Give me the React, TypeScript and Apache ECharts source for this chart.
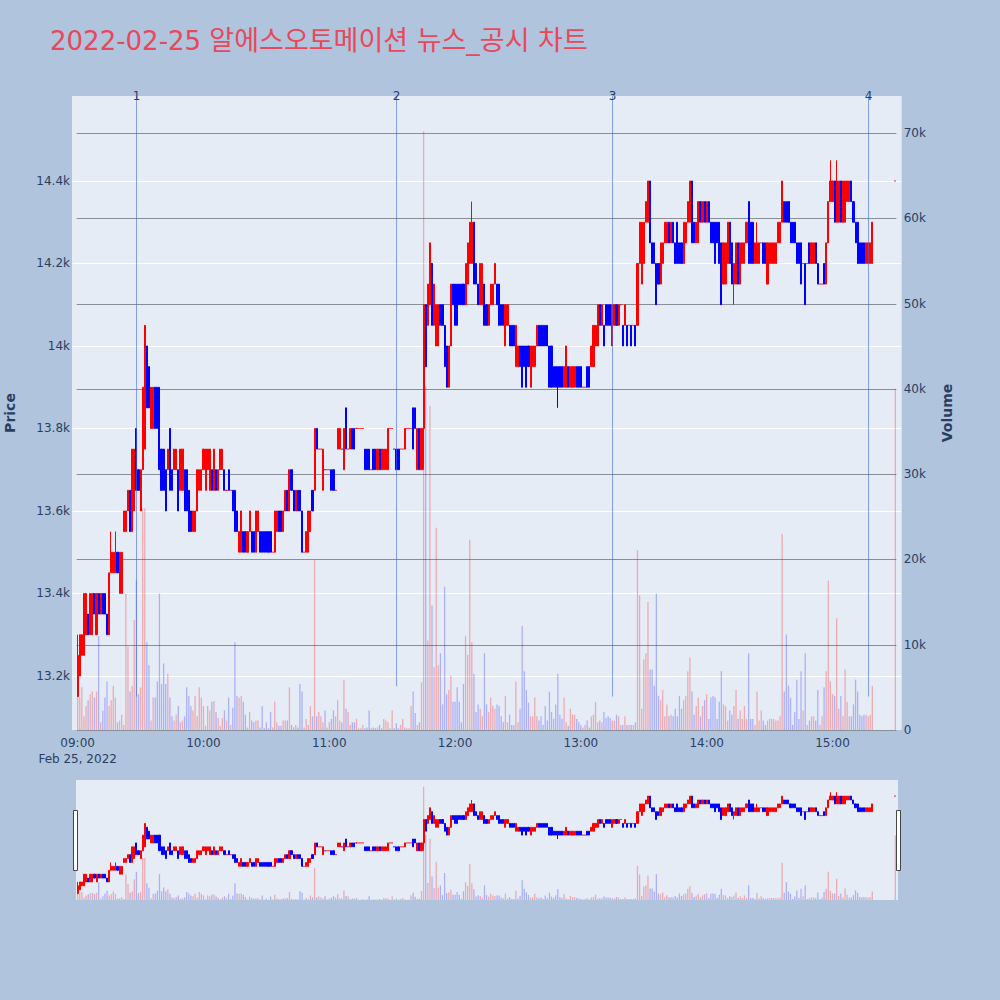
import React, { useEffect, useRef } from 'react';
import * as echarts from 'echarts';

const TITLE_DATE = '2022-02-25';
const TITLE_TEXT = '알에스오토메이션 뉴스_공시 차트';
const TRADE_DATE = [2022, 1, 25];
const DATE_LABEL = 'Feb 25, 2022';
const SESSION_START = '09:00';

// one candle per minute from 09:00
const opens = [
  13150,13200,13250,13250,13300,13350,13300,13300,13400,13300,
  13400,13350,13400,13400,13350,13300,13450,13450,13450,13500,
  13400,13400,13550,13550,13600,13650,13550,13600,13800,13700,
  13600,13700,13750,14000,13950,13800,13800,13900,13900,13900,
  13750,13750,13700,13700,13800,13700,13700,13700,13700,13650,
  13650,13700,13700,13650,13600,13550,13550,13600,13650,13650,
  13700,13650,13700,13650,13700,13650,13700,13650,13700,13700,
  13700,13650,13700,13650,13650,13650,13600,13500,13500,13550,
  13550,13500,13550,13550,13550,13500,13550,13550,13550,13550,
  13550,13550,13550,13500,13500,13550,13600,13600,13550,13600,
  13650,13600,13700,13650,13600,13650,13650,13600,13500,13500,
  13500,13550,13650,13650,13800,13750,13750,13650,13700,13700,
  13700,13700,13700,13650,13750,13750,13750,13700,13850,13750,
  13750,13800,13800,13800,13800,13800,13800,13750,13750,13750,
  13700,13750,13750,13700,13750,13700,13700,13700,13700,13800,
  13800,13750,13750,13750,13750,13750,13750,13800,13800,13800,
  13850,13850,13700,13800,13700,13800,14100,14050,14100,14200,
  14050,14000,14000,14100,14100,14050,14000,13900,14000,14150,
  14150,14150,14150,14150,14150,14100,14150,14200,14200,14300,
  14200,14150,14100,14100,14150,14100,14050,14100,14100,14150,
  14150,14150,14100,14100,14000,14050,14050,14050,14050,13950,
  13950,14000,14000,14000,14000,14000,13900,13950,13950,14000,
  14050,14050,14050,14050,14050,14000,14000,13950,13950,13950,
  13950,13950,13900,13900,13950,13900,13900,13900,13950,13950,
  13950,13900,13900,13950,13950,13950,13950,14000,14000,14100,
  14050,14050,14100,14100,14100,14000,14050,14100,14050,14100,
  14050,14050,14050,14050,14050,14050,14050,14050,14200,14150,
  14200,14300,14300,14400,14250,14250,14200,14200,14150,14200,
  14250,14250,14300,14250,14300,14250,14300,14250,14250,14200,
  14250,14300,14300,14400,14300,14250,14250,14350,14300,14350,
  14300,14350,14300,14300,14300,14300,14300,14250,14150,14150,
  14200,14300,14250,14150,14150,14250,14150,14200,14200,14250,
  14350,14300,14300,14200,14200,14200,14250,14250,14250,14150,
  14200,14200,14200,14200,14250,14250,14300,14350,14350,14350,
  14300,14300,14300,14250,14250,14250,14200,14200,14200,14250,
  14200,14200,14250,14200,14150,14150,14200,14150,14250,14350,
  14350,14400,14300,14300,14400,14300,14300,14350,14350,14400,
  14350,14300,14300,14250,14250,14250,14200,14200,14200,14200,
];

const closes = [
  13250,13300,13300,13400,13400,13300,13400,13400,13350,13400,
  13350,13400,13350,13350,13300,13450,13500,13500,13500,13450,
  13500,13500,13600,13600,13650,13550,13750,13750,13650,13650,
  13700,13900,14050,13850,13850,13900,13900,13800,13800,13700,
  13650,13650,13600,13750,13650,13650,13750,13750,13600,13750,
  13750,13600,13600,13550,13550,13600,13600,13700,13700,13700,
  13750,13750,13750,13750,13650,13750,13650,13700,13750,13750,
  13650,13650,13650,13650,13600,13550,13550,13550,13600,13500,
  13500,13550,13600,13500,13500,13600,13600,13500,13500,13500,
  13500,13500,13500,13500,13600,13600,13550,13550,13600,13650,
  13600,13700,13650,13600,13650,13600,13600,13500,13500,13550,
  13600,13600,13600,13800,13750,13750,13750,13750,13700,13700,
  13700,13650,13650,13650,13800,13800,13750,13800,13750,13750,
  13800,13750,13750,13800,13800,13800,13800,13700,13700,13700,
  13700,13700,13700,13750,13700,13750,13750,13750,13800,13800,
  13800,13750,13700,13700,13750,13750,13800,13800,13800,13800,
  13750,13800,13800,13700,13800,14100,13950,14150,14250,14050,
  14150,14100,14100,14050,14050,13950,13900,14000,14150,14100,
  14050,14050,14100,14100,14100,14200,14250,14300,14300,14150,
  14150,14100,14200,14200,14050,14050,14100,14150,14150,14200,
  14100,14050,14050,14050,14100,14100,14000,14000,14000,14050,
  14000,13950,13900,13950,13900,13950,14000,14000,14000,14050,
  14000,14000,14000,14000,14000,13900,13900,13900,13900,13900,
  13900,13900,13950,14000,13900,13950,13950,13950,13900,13900,
  13900,13900,13900,13900,13900,14000,14050,14050,14100,14050,
  14100,14000,14050,14050,14050,14100,14100,14050,14100,14100,
  14000,14100,14000,14050,14000,14050,14000,14200,14300,14300,
  14300,14350,14400,14250,14200,14200,14100,14150,14250,14250,
  14300,14300,14250,14300,14250,14200,14200,14200,14200,14300,
  14300,14350,14400,14250,14250,14300,14350,14300,14350,14300,
  14350,14300,14250,14250,14200,14250,14200,14100,14250,14250,
  14300,14200,14150,14200,14250,14150,14250,14250,14250,14300,
  14200,14200,14200,14250,14250,14250,14250,14200,14200,14250,
  14250,14250,14250,14250,14300,14300,14400,14300,14300,14300,
  14250,14250,14250,14200,14200,14150,14200,14100,14200,14200,
  14250,14250,14200,14150,14150,14150,14150,14250,14350,14400,
  14400,14300,14400,14400,14300,14400,14400,14400,14400,14350,
  14300,14250,14200,14200,14200,14200,14250,14250,14250,14300,
];

const volumes = [
  5000,3800,5000,1600,2800,3500,4200,4500,3800,4500,
  11000,900,2300,3800,5700,2800,3500,5200,3800,900,
  1100,1800,600,16000,9800,4500,5200,12900,17500,4200,
  5000,26000,26000,10300,7600,1100,3800,3800,5700,16000,
  5400,7800,5400,6600,3800,1600,1100,1800,2800,900,
  1100,1600,5000,4000,2800,2300,4000,1600,5000,3800,
  2800,500,2800,2300,3300,3400,2100,1400,500,1400,
  2300,1100,3800,600,2600,10300,4000,3800,4000,3300,
  1800,300,2100,1100,900,1100,1100,300,2800,200,
  900,200,2100,300,3300,900,500,500,1100,1100,
  1100,5000,600,300,600,300,5400,4500,300,1300,
  600,2800,1600,19900,1600,2100,1600,900,2300,300,
  900,1300,2300,1600,3500,1100,900,5900,2500,2100,
  600,900,900,1300,200,200,600,200,300,2300,
  200,300,200,300,600,200,1300,1100,900,200,
  2300,200,800,200,600,1300,300,200,200,2800,
  4500,2000,600,900,5600,70200,40300,10500,38000,14600,
  7400,23700,7600,9000,3000,16800,4200,4700,6400,3300,
  3300,5000,3300,900,5400,11000,8800,22300,10300,6600,
  2100,3000,2500,1600,9000,3000,2100,3800,2800,2500,
  3000,2800,1600,900,4000,900,1800,600,600,5700,
  900,2500,12200,6900,4700,3200,1600,1600,3800,1600,
  1100,1600,600,2800,1100,4500,2100,1300,3000,6600,
  1800,1300,3800,900,500,2500,1800,1800,1300,900,
  600,300,600,1100,300,1600,1800,3300,900,1100,
  900,2100,1400,1600,1400,1100,1100,1800,1600,600,
  600,1600,600,600,600,600,900,21100,15800,2500,
  8300,9000,15000,7100,7100,5200,16000,4000,3500,4700,
  1600,3000,1600,1800,1600,2500,1600,4000,2500,3500,
  4000,6900,8500,4500,1800,2800,3800,1600,2800,3500,
  4200,1300,3800,4000,3800,1300,3300,6900,3000,2800,
  1100,2300,1800,2800,4700,1300,2300,1300,2800,1300,
  9000,1300,1300,600,4500,1100,2300,1100,600,1100,
  1300,1300,1300,1100,1100,1600,23000,4500,11200,5200,
  3800,600,2100,5900,1300,6900,2300,9000,600,1100,
  1600,1600,1100,4700,600,1600,5000,6900,17500,5700,
  4200,4000,13100,2500,4000,1600,7100,3300,1600,1600,
  3000,5900,4500,1800,1600,1800,1800,1600,1800,5200,
];

// [minute index, low, high] for candles whose wick reaches past the body
const wicks = [
  [0, 13150, 13300], [16, 13450, 13550], [18, 13450, 13550], [165, 13700, 14100],
  [188, 14200, 14350], [229, 13850, 13950], [313, 14100, 14200], [324, 14200, 14300],
  [359, 14350, 14450], [362, 14300, 14450],
];

// closing single-price auction
const auctionTime = '15:30';
const auctionOpen = 14400;
const auctionClose = 14400;
const auctionVolume = 40000;

// news / disclosure markers
const newsTimes = ['09:27:40', '11:32:00', '13:14:50', '15:17:10'];
const newsLabels = ['1', '2', '3', '4'];
const newsLineLow = [13150, 13175, 13150, 13150];

const priceTicks = [13200, 13400, 13600, 13800, 14000, 14200, 14400];
const volumeTicks = [0, 10000, 20000, 30000, 40000, 50000, 60000, 70000];
const priceRange = [13069, 14606];
const volumeRange = [0, 74330];
const mainTimeRange = ['08:57:37', '15:32:42'];
const sliderTimeRange = ['08:59:30', '15:30:57'];
const volumeGridSpan = ['08:59:31', '15:30:29'];

const FONT = '"DejaVu Sans", Verdana, sans-serif';
const TEXT = '#2a3f5f';
const UP = '#ff0000';
const DOWN = '#0000ff';
const UP_VOL = 'rgba(255,0,0,0.28)';
const DOWN_VOL = 'rgba(0,0,255,0.25)';

const toTs = (hms: string) => {
  const [h, m, s] = hms.split(':').map(Number);
  return Date.UTC(TRADE_DATE[0], TRADE_DATE[1], TRADE_DATE[2], h, m, s || 0);
};

const hlineSeries = (xAxisIndex: number, yAxisIndex: number, rows: number[][], color: string, z: number) => ({
  type: 'custom',
  xAxisIndex,
  yAxisIndex,
  z,
  silent: true,
  clip: false,
  data: rows,
  encode: { x: [0, 1], y: 2 },
  renderItem: (params: any, api: any) => {
    const a = api.coord([api.value(0), api.value(2)]);
    const b = api.coord([api.value(1), api.value(2)]);
    const y = Math.round(a[1]) + 0.5;
    return {
      type: 'line',
      shape: { x1: a[0], y1: y, x2: b[0], y2: y },
      style: { stroke: color, lineWidth: 1 },
    };
  },
});

export default function App() {
  const ref = useRef<HTMLDivElement>(null);

  useEffect(() => {
    document.body.style.margin = '0';
    const chart = echarts.init(ref.current!, null, { renderer: 'svg' });
    const start = toTs(SESSION_START);

    const candles: number[][] = opens.map((o, i) => {
      const c = closes[i];
      let lo = Math.min(o, c);
      let hi = Math.max(o, c);
      const w = wicks.find((k) => k[0] === i);
      if (w) {
        lo = w[1];
        hi = w[2];
      }
      return [start + i * 60000, o, c, lo, hi];
    });
    candles.push([toTs(auctionTime), auctionOpen, auctionClose, Math.min(auctionOpen, auctionClose), Math.max(auctionOpen, auctionClose)]);
    const vols = [...volumes, auctionVolume];

    const isUp = (i: number) => {
      const k = candles[i];
      if (k[2] !== k[1]) return k[2] > k[1];
      return i === 0 || candles[i - 1][2] <= k[2];
    };
    const volData = candles.map((k, i) => ({
      value: [k[0], vols[i]],
      itemStyle: { color: isUp(i) ? UP_VOL : DOWN_VOL },
    }));

    const candleStyle = {
      color: UP,
      color0: DOWN,
      borderColor: UP,
      borderColor0: DOWN,
      borderWidth: 1,
    };

    const xMin = toTs(mainTimeRange[0]);
    const xMax = toTs(mainTimeRange[1]);

    const timeLabel = (v: number) => {
      const d = new Date(v);
      if (d.getUTCMinutes() !== 0 || d.getUTCSeconds() !== 0) return '';
      const hh = String(d.getUTCHours()).padStart(2, '0') + ':00';
      return hh === SESSION_START ? hh + '\n' + DATE_LABEL : hh;
    };

    const option: any = {
      animation: false,
      useUTC: true,
      backgroundColor: '#b0c4de',
      textStyle: { fontFamily: FONT },
      title: {
        text: '{d|' + TITLE_DATE + ' }{k|' + TITLE_TEXT + '}',
        left: 50,
        top: 27,
        padding: 0,
        textStyle: {
          color: '#e8485a',
          fontSize: 26,
          fontWeight: 'normal',
          fontFamily: '"DejaVu Sans", "Noto Sans CJK KR", sans-serif',
          rich: {
            d: { color: '#e8485a', fontSize: 26, fontFamily: '"DejaVu Sans", "Noto Sans CJK KR", sans-serif' },
            k: { color: '#e8485a', fontSize: 27, fontFamily: '"DejaVu Sans", "Noto Sans CJK KR", sans-serif' },
          },
        },
      },
      grid: [
        { left: 72, top: 96, width: 829.7, height: 634, show: true, backgroundColor: '#e5ecf6', borderWidth: 0, containLabel: false, outerBoundsMode: 'none' },
        { left: 76, top: 780, width: 822, height: 120, show: true, backgroundColor: '#e5ecf6', borderWidth: 0, containLabel: false, outerBoundsMode: 'none' },
      ],
      xAxis: [
        {
          type: 'time',
          gridIndex: 0,
          min: xMin,
          max: xMax,
          splitNumber: 7,
          minInterval: 3600000,
          maxInterval: 3600000,
          axisLine: { show: false },
          axisTick: { show: false },
          splitLine: { show: false },
          axisLabel: {
            formatter: timeLabel,
            color: TEXT,
            fontSize: 12,
            fontFamily: FONT,
            margin: 5,
            lineHeight: 16,
            hideOverlap: false,
          },
        },
        {
          type: 'time',
          gridIndex: 1,
          min: toTs(sliderTimeRange[0]),
          max: toTs(sliderTimeRange[1]),
          show: false,
        },
      ],
      yAxis: [
        {
          type: 'value',
          gridIndex: 0,
          position: 'left',
          min: priceRange[0],
          max: priceRange[1],
          splitNumber: 8,
          axisLine: { show: false },
          axisTick: { show: false },
          splitLine: { show: false },
          axisLabel: {
            formatter: (v: number) => (priceTicks.includes(v) ? v / 1000 + 'k' : ''),
            color: TEXT,
            fontSize: 12,
            fontFamily: FONT,
            margin: 2,
          },
          name: 'Price',
          nameLocation: 'middle',
          nameRotate: 90,
          nameGap: 55,
          nameTextStyle: { color: TEXT, fontSize: 14, fontWeight: 'bold', fontFamily: FONT },
        },
        {
          type: 'value',
          gridIndex: 0,
          position: 'right',
          min: volumeRange[0],
          max: volumeRange[1],
          splitNumber: 7,
          axisLine: { show: false },
          axisTick: { show: false },
          splitLine: { show: false },
          axisLabel: {
            formatter: (v: number) => (volumeTicks.includes(v) ? (v === 0 ? '0' : v / 1000 + 'k') : ''),
            color: TEXT,
            fontSize: 12,
            fontFamily: FONT,
            margin: 2,
          },
          name: 'Volume',
          nameLocation: 'middle',
          nameRotate: 90,
          nameGap: 38,
          nameTextStyle: { color: TEXT, fontSize: 14, fontWeight: 'bold', fontFamily: FONT },
        },
        { type: 'value', gridIndex: 1, min: priceRange[0], max: priceRange[1], show: false, splitLine: { show: false } },
        { type: 'value', gridIndex: 1, min: volumeRange[0], max: volumeRange[1], show: false, splitLine: { show: false } },
      ],
      series: [
        hlineSeries(0, 0, priceTicks.map((v) => [xMin, xMax, v]), '#ffffff', 0),
        hlineSeries(0, 1, volumeTicks.map((v) => [toTs(volumeGridSpan[0]), toTs(volumeGridSpan[1]), v]), '#8a8e96', 0),
        {
          type: 'bar',
          xAxisIndex: 0,
          yAxisIndex: 1,
          data: volData,
          barWidth: 1.3,
          z: 1,
          silent: true,
        },
        {
          type: 'candlestick',
          xAxisIndex: 0,
          yAxisIndex: 0,
          data: candles,
          barWidth: 1.6,
          itemStyle: candleStyle,
          z: 2,
          silent: true,
        },
        {
          type: 'custom',
          xAxisIndex: 0,
          yAxisIndex: 0,
          z: 3,
          silent: true,
          clip: false,
          data: newsTimes.map((t, i) => [toTs(t), newsLineLow[i], priceRange[1], i]),
          encode: { x: 0, y: [1, 2] },
          renderItem: (params: any, api: any) => {
            const top = api.coord([api.value(0), api.value(2)]);
            const bot = api.coord([api.value(0), api.value(1)]);
            const x = Math.round(top[0]) + 0.5;
            return {
              type: 'group',
              children: [
                {
                  type: 'line',
                  shape: { x1: x, y1: top[1], x2: x, y2: bot[1] },
                  style: { stroke: 'rgba(65,105,225,0.6)', lineWidth: 1 },
                },
                {
                  type: 'text',
                  x: x,
                  y: top[1],
                  style: {
                    text: newsLabels[api.value(3)],
                    fill: TEXT,
                    font: '12px ' + FONT,
                    align: 'center',
                    verticalAlign: 'middle',
                    textAlign: 'center',
                    textVerticalAlign: 'middle',
                  },
                },
              ],
            };
          },
        },
        {
          type: 'bar',
          xAxisIndex: 1,
          yAxisIndex: 3,
          data: volData,
          barWidth: 1.3,
          z: 1,
          silent: true,
        },
        {
          type: 'candlestick',
          xAxisIndex: 1,
          yAxisIndex: 2,
          data: candles,
          barWidth: 1.6,
          itemStyle: candleStyle,
          z: 2,
          silent: true,
        },
      ],
      graphic: [
        {
          type: 'rect',
          shape: { x: 73.5, y: 810.5, width: 4, height: 60 },
          style: { fill: '#ffffff', stroke: '#444444', lineWidth: 1 },
          z: 100,
        },
        {
          type: 'rect',
          shape: { x: 896.5, y: 810.5, width: 4, height: 60 },
          style: { fill: '#ffffff', stroke: '#444444', lineWidth: 1 },
          z: 100,
        },
      ],
    };

    chart.setOption(option);
    return () => chart.dispose();
  }, []);

  return <div ref={ref} style={{ width: 1000, height: 1000 }} />;
}
